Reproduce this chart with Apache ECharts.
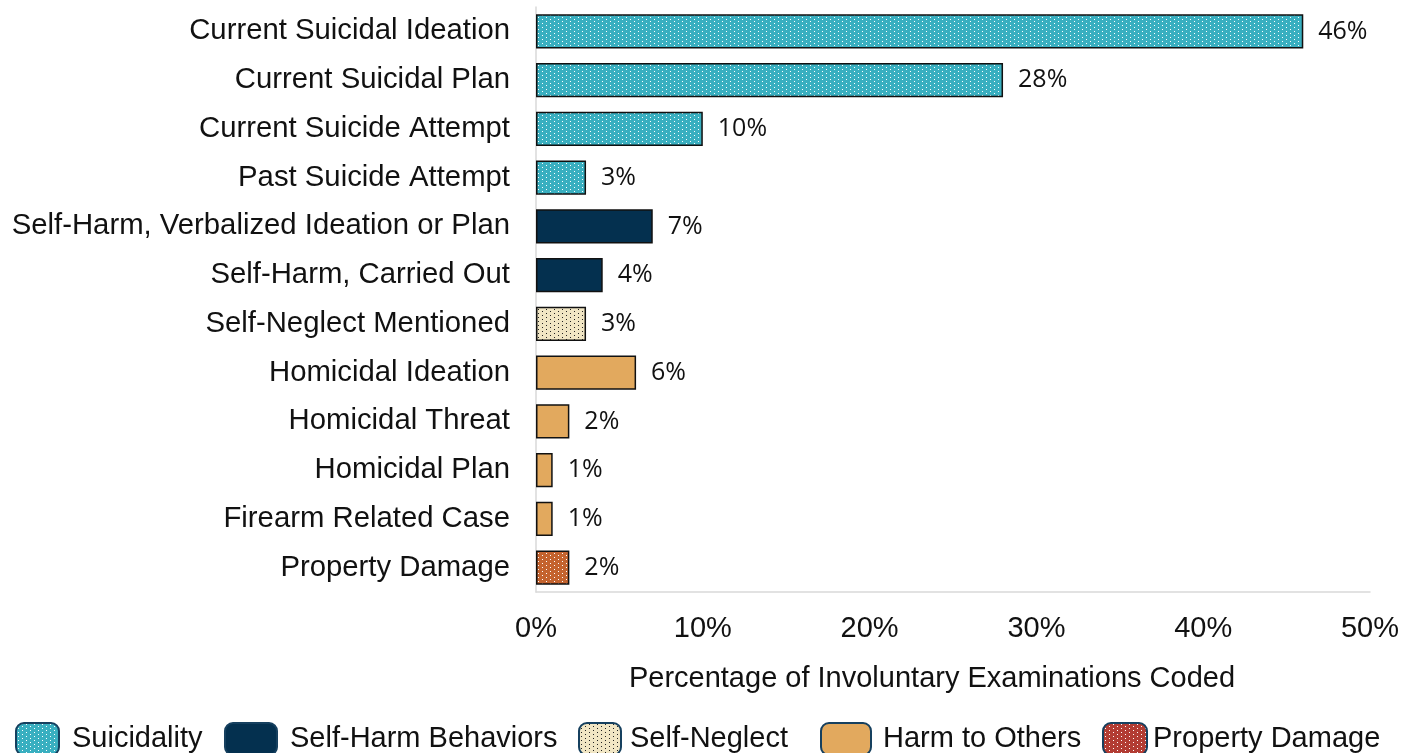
<!DOCTYPE html>
<html>
<head>
<meta charset="utf-8">
<script src="https://cdn.jsdelivr.net/npm/echarts@6/dist/echarts.min.js"></script>
<style>
  html, body { margin: 0; padding: 0; background: #fff; }
  #chart { width: 1416px; height: 753px; }
</style>
</head>
<body>
<div id="chart"></div>
<script>
const categories = [
  'Current Suicidal Ideation', 'Current Suicidal Plan', 'Current Suicide Attempt',
  'Past Suicide Attempt', 'Self-Harm, Verbalized Ideation or Plan', 'Self-Harm, Carried Out',
  'Self-Neglect Mentioned', 'Homicidal Ideation', 'Homicidal Threat', 'Homicidal Plan',
  'Firearm Related Case', 'Property Damage'
]
const values = [46, 28, 10, 3, 7, 4, 3, 6, 2, 1, 1, 2]
const groupOf = [
  'Suicidality', 'Suicidality', 'Suicidality', 'Suicidality',
  'Self-Harm Behaviors', 'Self-Harm Behaviors', 'Self-Neglect',
  'Harm to Others', 'Harm to Others', 'Harm to Others', 'Harm to Others',
  'Property Damage'
]
const groupNames = ['Suicidality', 'Self-Harm Behaviors', 'Self-Neglect', 'Harm to Others', 'Property Damage']
const xTicks = [0, 10, 20, 30, 40, 50]

// dotted fill like the office pattern fills
function dots(bg, fg) {
  const c = document.createElement('canvas')
  c.width = 8; c.height = 8
  const g = c.getContext('2d')
  g.fillStyle = bg
  g.fillRect(0, 0, 8, 8)
  g.fillStyle = fg
  g.fillRect(2, 1, 1, 1)
  g.fillRect(6, 3, 1, 1)
  g.fillRect(2, 5, 1, 1)
  g.fillRect(6, 7, 1, 1)
  return { image: c, repeat: 'repeat' }
}

const fills = {
  'Suicidality': dots('#39afc0', '#ffffff'),
  'Self-Harm Behaviors': '#04304f',
  'Self-Neglect': dots('#f1e6c4', '#222222'),
  'Harm to Others': '#e2a95e',
  'Property Damage': dots('#c4632e', '#ffffff')
}
const legendFills = {
  'Suicidality': dots('#39afc0', '#ffffff'),
  'Self-Harm Behaviors': '#04304f',
  'Self-Neglect': dots('#f1e6c4', '#222222'),
  'Harm to Others': '#e2a95e',
  'Property Damage': dots('#b23c33', '#ffffff')
}

// one legend per entry so each sits where it does in the original
const legendSpots = [
  { left: 15, w: 43, pad: 8 },
  { left: 224, w: 52, pad: 8 },
  { left: 578, w: 42, pad: 4 },
  { left: 820, w: 50, pad: 7 },
  { left: 1102, w: 44, pad: 1 }
]

const series = groupNames.map(name => ({
  name: name,
  type: 'bar',
  stack: 'all',
  barCategoryGap: '30%',
  data: values.map((v, i) => groupOf[i] === name ? v : '-'),
  itemStyle: { color: fills[name], borderColor: '#111', borderWidth: 1.5 },
  label: {
    show: true,
    position: 'right',
    distance: 15,
    formatter: '{c}%',
    color: '#111',
    fontFamily: 'Open Sans',
    fontSize: 25
  }
}))

const legends = groupNames.map((n, i) => ({
  left: legendSpots[i].left,
  top: 722,
  padding: 0,
  itemWidth: legendSpots[i].w,
  itemHeight: 32,
  icon: 'roundRect',
  data: [{
    name: n,
    itemStyle: { color: legendFills[n], borderColor: '#16405f', borderWidth: 2 }
  }],
  textStyle: { color: '#111', fontFamily: 'Liberation Sans', fontSize: 29, padding: [0, 0, 0, legendSpots[i].pad] }
}))

const chart = echarts.init(document.getElementById('chart'))
chart.setOption({
  animation: false,
  grid: { left: 536, right: 46, top: 7, bottom: 161, containLabel: false },
  xAxis: {
    type: 'value',
    min: 0, max: 50, interval: 10,
    axisLine: { show: true, lineStyle: { color: '#d9d9d9', width: 1.5 } },
    axisTick: { show: false },
    splitLine: { show: false },
    axisLabel: {
      formatter: v => xTicks.includes(v) ? v + '%' : '',
      color: '#111', fontFamily: 'Liberation Sans', fontSize: 29, margin: 22
    },
    name: 'Percentage of Involuntary Examinations Coded',
    nameLocation: 'middle',
    nameGap: 72,
    nameTextStyle: { color: '#111', fontFamily: 'Liberation Sans', fontSize: 29, padding: [0, 42, 0, 0] }
  },
  yAxis: {
    type: 'category',
    data: categories,
    inverse: true,
    axisLine: { show: true, lineStyle: { color: '#d9d9d9', width: 1.5 } },
    axisTick: { show: false },
    axisLabel: { color: '#111', fontFamily: 'Liberation Sans', fontSize: 29.3, margin: 26 }
  },
  legend: legends,
  series: series
})
</script>
</body>
</html>
